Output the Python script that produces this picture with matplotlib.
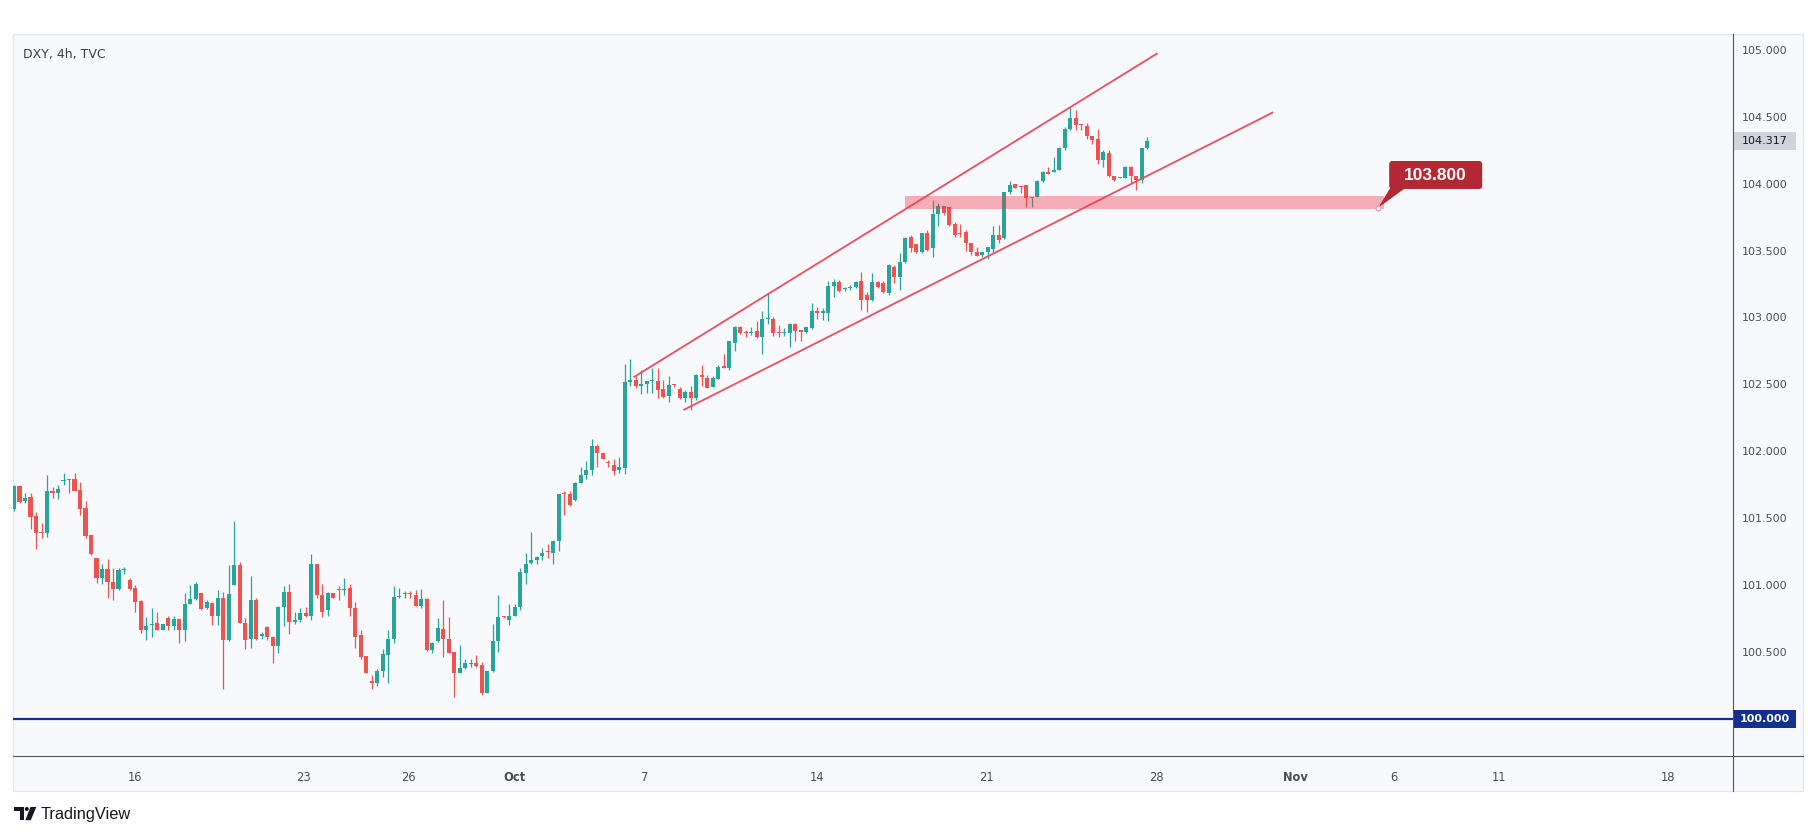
import matplotlib
matplotlib.use("Agg")
import matplotlib.pyplot as plt
import matplotlib.transforms as mtransforms
from matplotlib.patches import Rectangle, FancyBboxPatch, Polygon, Circle
from matplotlib.lines import Line2D
import numpy as np

# ---------------- data (DXY 4h candles) ----------------
opens = [101.57, 101.74, 101.63, 101.66, 101.515, 101.395, 101.39, 101.70, 101.685, 101.775,
         101.785, 101.79, 101.71, 101.575, 101.375, 101.20, 101.055, 101.12, 101.02, 100.97,
         101.11, 101.035, 100.98, 100.88, 100.66, 100.70, 100.715, 100.665, 100.755, 100.695,
         100.745, 100.665, 100.86, 100.895, 100.94, 100.825, 100.865, 100.77, 100.90, 100.59,
         101.00, 101.15, 100.715, 100.595, 100.89, 100.62, 100.685, 100.615, 100.545, 100.835,
         100.945, 100.72, 100.74, 100.79, 100.77, 101.16, 100.925, 100.81, 100.94, 100.97,
         100.96, 100.975, 100.825, 100.625, 100.47, 100.275, 100.265, 100.36, 100.48, 100.595,
         100.91, 100.94, 100.94, 100.925, 100.845, 100.895, 100.515, 100.585, 100.67, 100.595,
         100.50, 100.345, 100.38, 100.41, 100.415, 100.40, 100.195, 100.355, 100.58, 100.765,
         100.735, 100.77, 100.835, 101.09, 101.165, 101.19, 101.22, 101.25, 101.24, 101.33,
         101.685, 101.68, 101.635, 101.76, 101.825, 101.86, 102.04, 101.99, 101.915, 101.90,
         101.86, 101.875, 102.52, 102.53, 102.49, 102.50, 102.525, 102.525, 102.465, 102.41,
         102.497, 102.465, 102.395, 102.44, 102.395, 102.57, 102.545, 102.478, 102.54, 102.64,
         102.62, 102.81, 102.93, 102.886, 102.884, 102.895, 102.85, 102.985, 102.985, 102.886,
         102.88, 102.88, 102.95, 102.897, 102.894, 102.92, 103.048, 103.036, 103.036, 103.235,
         103.268, 103.21, 103.218, 103.23, 103.272, 103.17, 103.13, 103.267, 103.26, 103.18,
         103.38, 103.305, 103.417, 103.60, 103.55, 103.49, 103.633, 103.516, 103.773, 103.833,
         103.828, 103.698, 103.63, 103.64, 103.554, 103.49, 103.466, 103.491, 103.51, 103.616,
         103.59, 103.94, 103.995, 103.98, 103.99, 103.89, 103.902, 104.02, 104.077, 104.09,
         104.102, 104.264, 104.406, 104.488, 104.44, 104.431, 104.356, 104.331, 104.177, 104.226,
         104.057, 104.04, 104.045, 104.127, 104.057, 104.027, 104.264]
highs = [101.75, 101.75, 101.685, 101.685, 101.545, 101.46, 101.82, 101.73, 101.75, 101.835,
         101.79, 101.84, 101.77, 101.63, 101.375, 101.20, 101.16, 101.195, 101.125, 101.125,
         101.135, 101.05, 101.00, 100.89, 100.76, 100.825, 100.80, 100.705, 100.765, 100.77,
         100.745, 100.94, 101.00, 101.025, 100.94, 100.89, 100.875, 100.965, 100.95, 101.15,
         101.48, 101.175, 100.75, 101.065, 100.90, 100.65, 100.69, 100.62, 100.845, 100.99,
         101.01, 100.795, 100.825, 100.835, 101.23, 101.16, 101.01, 100.95, 100.94, 100.99,
         101.05, 101.01, 100.875, 100.665, 100.47, 100.33, 100.37, 100.525, 100.66, 100.99,
         100.98, 100.955, 100.955, 100.965, 100.97, 100.90, 100.575, 100.75, 100.89, 100.76,
         100.50, 100.55, 100.45, 100.45, 100.475, 100.425, 100.36, 100.71, 100.925, 100.77,
         100.86, 100.86, 101.125, 101.24, 101.395, 101.215, 101.275, 101.31, 101.34, 101.68,
         101.70, 101.70, 101.77, 101.885, 101.93, 102.095, 102.055, 101.99, 101.935, 101.94,
         101.955, 102.65, 102.69, 102.56, 102.61, 102.525, 102.62, 102.62, 102.535, 102.56,
         102.505, 102.48, 102.46, 102.485, 102.58, 102.645, 102.57, 102.56, 102.645, 102.73,
         102.825, 102.935, 102.935, 102.905, 102.93, 102.97, 103.05, 103.18, 103.005, 102.945,
         102.92, 102.96, 102.96, 102.905, 102.925, 103.105, 103.08, 103.07, 103.27, 103.29,
         103.28, 103.23, 103.245, 103.275, 103.34, 103.19, 103.335, 103.27, 103.27, 103.40,
         103.39, 103.48, 103.60, 103.616, 103.55, 103.633, 103.65, 103.88, 103.853, 103.833,
         103.828, 103.716, 103.70, 103.65, 103.554, 103.53, 103.491, 103.529, 103.683, 103.69,
         103.94, 104.02, 103.995, 103.99, 103.99, 103.90, 104.027, 104.097, 104.127, 104.20,
         104.276, 104.426, 104.575, 104.55, 104.445, 104.45, 104.356, 104.406, 104.252, 104.252,
         104.057, 104.05, 104.132, 104.132, 104.057, 104.264, 104.346]
lows = [101.55, 101.615, 101.61, 101.42, 101.27, 101.35, 101.36, 101.65, 101.64, 101.75,
        101.69, 101.70, 101.52, 101.355, 101.225, 101.015, 101.01, 100.90, 100.885, 100.96,
        101.085, 100.96, 100.80, 100.645, 100.59, 100.61, 100.66, 100.665, 100.665, 100.665,
        100.57, 100.585, 100.86, 100.89, 100.81, 100.82, 100.70, 100.70, 100.22, 100.585,
        101.00, 100.715, 100.52, 100.53, 100.59, 100.60, 100.59, 100.415, 100.495, 100.69,
        100.635, 100.71, 100.725, 100.76, 100.74, 100.90, 100.76, 100.765, 100.90, 100.89,
        100.925, 100.765, 100.53, 100.45, 100.34, 100.22, 100.245, 100.315, 100.27, 100.57,
        100.90, 100.90, 100.905, 100.84, 100.825, 100.51, 100.49, 100.575, 100.465, 100.495,
        100.16, 100.345, 100.37, 100.39, 100.39, 100.18, 100.19, 100.35, 100.50, 100.75,
        100.70, 100.765, 100.81, 101.01, 101.16, 101.16, 101.185, 101.205, 101.16, 101.255,
        101.52, 101.59, 101.63, 101.76, 101.79, 101.82, 101.885, 101.94, 101.885, 101.82,
        101.84, 101.83, 102.49, 102.475, 102.43, 102.435, 102.435, 102.40, 102.395, 102.37,
        102.48, 102.39, 102.365, 102.305, 102.385, 102.485, 102.47, 102.478, 102.54, 102.62,
        102.61, 102.75, 102.875, 102.85, 102.87, 102.845, 102.73, 102.95, 102.86, 102.85,
        102.86, 102.78, 102.82, 102.82, 102.885, 102.91, 102.99, 102.98, 102.975, 103.155,
        103.19, 103.20, 103.205, 103.22, 103.055, 103.04, 103.12, 103.22, 103.18, 103.17,
        103.255, 103.205, 103.41, 103.49, 103.48, 103.48, 103.50, 103.455, 103.683, 103.765,
        103.683, 103.60, 103.60, 103.50, 103.466, 103.458, 103.454, 103.434, 103.49, 103.554,
        103.583, 103.922, 103.965, 103.927, 103.828, 103.828, 103.902, 104.015, 104.07, 104.089,
        104.102, 104.251, 104.401, 104.401, 104.401, 104.331, 104.296, 104.147, 104.127, 104.052,
        104.022, 104.04, 104.04, 104.007, 103.952, 104.002, 104.256]
closes = [101.74, 101.62, 101.65, 101.51, 101.385, 101.39, 101.70, 101.69, 101.715, 101.78,
          101.79, 101.70, 101.565, 101.365, 101.23, 101.055, 101.12, 101.02, 100.97, 101.11,
          101.115, 100.97, 100.87, 100.66, 100.695, 100.705, 100.66, 100.705, 100.695, 100.745,
          100.66, 100.86, 100.895, 101.01, 100.82, 100.87, 100.77, 100.90, 100.59, 100.935,
          101.15, 100.715, 100.59, 100.89, 100.60, 100.635, 100.61, 100.545, 100.835, 100.945,
          100.72, 100.74, 100.79, 100.765, 101.16, 100.925, 100.80, 100.94, 100.905, 100.96,
          100.965, 100.825, 100.615, 100.465, 100.345, 100.27, 100.355, 100.485, 100.595, 100.91,
          100.915, 100.935, 100.935, 100.845, 100.895, 100.515, 100.565, 100.675, 100.595, 100.495,
          100.345, 100.38, 100.415, 100.415, 100.395, 100.195, 100.355, 100.58, 100.76, 100.762,
          100.765, 100.835, 101.10, 101.16, 101.19, 101.21, 101.24, 101.245, 101.33, 101.68,
          101.68, 101.60, 101.76, 101.825, 101.86, 102.04, 101.99, 101.94, 101.91, 101.855,
          101.88, 102.52, 102.525, 102.485, 102.505, 102.525, 102.53, 102.455, 102.405, 102.495,
          102.493, 102.395, 102.44, 102.395, 102.57, 102.555, 102.475, 102.545, 102.63, 102.62,
          102.825, 102.93, 102.88, 102.884, 102.886, 102.85, 102.985, 102.993, 102.88, 102.88,
          102.89, 102.95, 102.895, 102.894, 102.925, 103.045, 103.03, 103.044, 103.235, 103.268,
          103.20, 103.218, 103.23, 103.267, 103.13, 103.13, 103.267, 103.23, 103.19, 103.39,
          103.305, 103.417, 103.591, 103.516, 103.49, 103.633, 103.504, 103.773, 103.833, 103.778,
          103.69, 103.616, 103.625, 103.554, 103.49, 103.46, 103.49, 103.524, 103.616, 103.579,
          103.94, 103.99, 103.965, 103.975, 103.89, 103.897, 104.02, 104.089, 104.075, 104.097,
          104.269, 104.406, 104.488, 104.438, 104.435, 104.356, 104.326, 104.177, 104.239, 104.057,
          104.027, 104.045, 104.127, 104.057, 104.027, 104.264, 104.317]

x_tick_pos = [22.07, 52.6, 71.7, 90.9, 114.7, 146.0, 176.8, 207.7, 232.9, 250.8, 270.0, 300.7]
x_tick_labels = ["16", "23", "26", "Oct", "7", "14", "21", "28", "Nov", "6", "11", "18"]
y_tick_values = [100.5, 101.0, 101.5, 102.0, 102.5, 103.0, 103.5, 104.0, 104.5, 105.0]

upper_x = [112.6, 207.9]
upper_y = [102.552, 104.975]
lower_x = [121.7, 228.9]
lower_y = [102.308, 104.533]

zone_x = [161.9, 249.0]
zone_y = [103.808, 103.911]
level_value = 103.800
support_value = 100.000
title = "DXY, 4h, TVC"

# ---------------- styling ----------------
W, H, DPI = 1815, 836, 100
GREEN = "#26a69a"
RED = "#ef5350"
BG = "#f8f9fd"
AXLINE = "#50535e"
TXT = "#131722"
TICK = "#4a4d57"

fig = plt.figure(figsize=(W / DPI, H / DPI), dpi=DPI, facecolor="white")
# pixel transform (origin top-left)
px = mtransforms.Affine2D().scale(1.0 / DPI, -1.0 / DPI).translate(0, H / DPI) + fig.dpi_scale_trans

L_, R_, T_, B_ = 12.7, 1733.0, 33.5, 756.0
PANEL_R, PANEL_B = 1803.0, 790.6

panel = Rectangle((L_, T_), PANEL_R - L_, PANEL_B - T_, transform=px,
                  facecolor=BG, edgecolor="#e3e6ee", lw=1.0, zorder=-10)
fig.add_artist(panel)

ax = fig.add_axes([L_ / W, 1 - B_ / H, (R_ - L_) / W, (B_ - T_) / H])
ax.set_facecolor("none")
for s in ax.spines.values():
    s.set_visible(False)

o = np.array(opens); h = np.array(highs); l = np.array(lows); c = np.array(closes)
n = len(o)
xs = np.arange(n)
cols = np.where(c >= o, GREEN, RED)

ax.vlines(xs, l, h, colors=cols, lw=0.9, zorder=2)
body_bottom = np.minimum(o, c)
body_h = np.maximum(np.abs(c - o), 0.009)
ax.bar(xs, body_h, bottom=body_bottom, width=0.74, color=cols, lw=0, zorder=3)

ax.set_xlim(-0.24, 312.5)
ax.set_ylim(99.722, 105.122)

# support line
ax.axhline(support_value, color="#12318f", lw=1.6, zorder=4)

# channel lines
ax.plot(upper_x, upper_y, color="#ee4d5c", lw=1.3, zorder=5, solid_capstyle="butt")
ax.plot(lower_x, lower_y, color="#ee4d5c", lw=1.3, zorder=5, solid_capstyle="butt")

# zone
ax.add_patch(Rectangle((zone_x[0], zone_y[0]), zone_x[1] - zone_x[0], zone_y[1] - zone_y[0],
                       facecolor="#F23645", alpha=0.38, lw=0, zorder=6))

# callout label
bx0, bx1 = 250.0, 266.9
by0, by1 = 103.960, 104.169
ax.add_patch(Polygon([(250.3, 103.975), (253.2, 103.975), (zone_x[1] - 1.0, zone_y[0] + 0.012)],
                     closed=True, facecolor="#b22833", edgecolor="none", zorder=7))
ax.add_patch(FancyBboxPatch((bx0, by0), bx1 - bx0, by1 - by0,
                            boxstyle="round,pad=0,rounding_size=0.6",
                            mutation_aspect=(1 / 133.8) / (1 / 5.5),
                            facecolor="#b22833", edgecolor="none", zorder=7))
ax.text((bx0 + bx1) / 2, (by0 + by1) / 2 - 0.004, f"{level_value:.3f}", ha="center", va="center",
        color="white", fontsize=12.5, fontweight="bold", family="Liberation Sans", zorder=8)
ax.plot([zone_x[1] - 1.0], [zone_y[0] + 0.012], marker="o", ms=3.5, mfc="#fbe9eb",
        mec="#d9a0a6", mew=0.8, zorder=8)

# axes ticks
ax.yaxis.tick_right()
ax.set_yticks(y_tick_values)
ax.set_yticklabels([f"{v:.3f}" for v in y_tick_values])
ax.tick_params(axis="y", length=0, pad=6.5, labelsize=8, labelcolor=TICK)
ax.set_xticks(x_tick_pos)
ax.set_xticklabels(x_tick_labels)
ax.tick_params(axis="x", length=0, pad=11, labelsize=8.3, labelcolor=TICK)
for lab in ax.get_xticklabels():
    if lab.get_text() in ("Oct", "Nov"):
        lab.set_fontweight("bold")
for lab in ax.get_xticklabels() + ax.get_yticklabels():
    lab.set_family("DejaVu Sans")

# separator lines
fig.add_artist(Line2D([R_, R_], [T_, PANEL_B], transform=px, color=AXLINE, lw=0.8))
fig.add_artist(Line2D([L_, PANEL_R], [B_, B_], transform=px, color=AXLINE, lw=0.8))

# price labels on the axis
bt = mtransforms.blended_transform_factory(px, ax.transData)
last = closes[-1]
hh = 0.138
fig.add_artist(Rectangle((R_ + 1, last - hh / 2), 62, hh, transform=bt,
                         facecolor="#d1d4dc", edgecolor="none", zorder=9))
fig.add_artist(plt.Text(1765, last, f"{last:.3f}", transform=bt, ha="center", va="center",
                        fontsize=8, color=TXT, family="DejaVu Sans", zorder=10))
fig.add_artist(Rectangle((R_ + 1, support_value - hh / 2), 62, hh, transform=bt,
                         facecolor="#12318f", edgecolor="none", zorder=9))
fig.add_artist(plt.Text(1765, support_value, f"{support_value:.3f}", transform=bt,
                        ha="center", va="center", fontsize=8, color="white",
                        fontweight="bold", family="DejaVu Sans", zorder=10))

# title
fig.add_artist(plt.Text(22.7, 54.7, title, transform=px, ha="left", va="center",
                        fontsize=9, color="#3b3e48", family="DejaVu Sans"))

# TradingView logo
logo_col = "#131722"
fig.add_artist(Rectangle((14, 807.0), 9.5, 3.8, transform=px, facecolor=logo_col, lw=0))
fig.add_artist(Rectangle((19.6, 807.0), 3.9, 13.2, transform=px, facecolor=logo_col, lw=0))
fig.add_artist(Circle((26.8, 809.0), 2.0, transform=px, facecolor=logo_col, lw=0))
fig.add_artist(Polygon([(30.5, 807.0), (36.3, 807.0), (30.8, 820.2), (25.3, 820.2)],
                       closed=True, transform=px, facecolor=logo_col, lw=0))
fig.add_artist(plt.Text(40.5, 814.0, "TradingView", transform=px, ha="left", va="center",
                        fontsize=11.8, color=logo_col, family="Liberation Sans"))

fig.savefig("out.png", dpi=DPI, facecolor="white")
